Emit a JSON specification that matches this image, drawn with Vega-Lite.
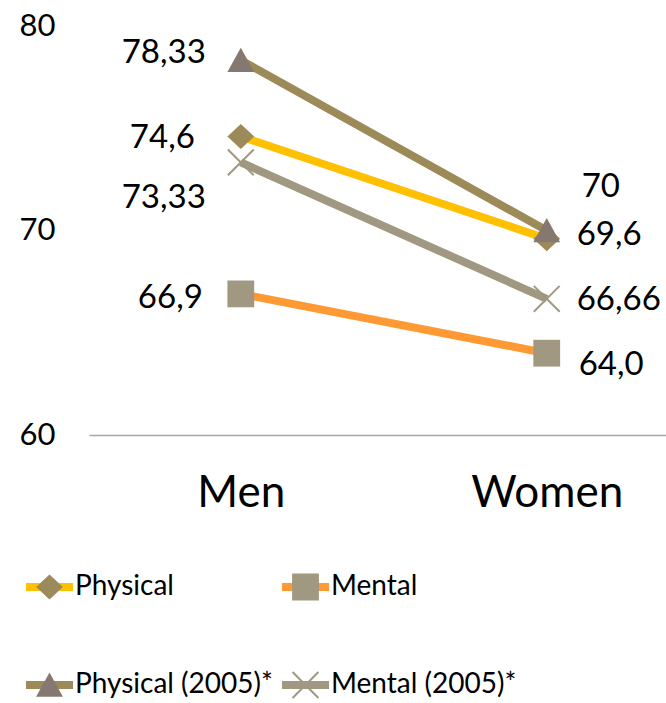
{
  "$schema": "https://vega.github.io/schema/vega-lite/v6.json",
  "autosize": "none",
  "width": 577,
  "height": 409,
  "padding": {"left": 89, "top": 26, "right": 0, "bottom": 268},
  "background": "white",
  "config": {"view": {"stroke": null}, "font": "Lato"},
  "data": {
    "values": [
      {"series": "Physical", "sex": "Men", "value": 74.6, "label": "74,6"},
      {"series": "Physical", "sex": "Women", "value": 69.6, "label": "69,6"},
      {"series": "Mental", "sex": "Men", "value": 66.9, "label": "66,9"},
      {"series": "Mental", "sex": "Women", "value": 64.0, "label": "64,0"},
      {"series": "Physical (2005)*", "sex": "Men", "value": 78.33, "label": "78,33"},
      {"series": "Physical (2005)*", "sex": "Women", "value": 70, "label": "70"},
      {"series": "Mental (2005)*", "sex": "Men", "value": 73.33, "label": "73,33"},
      {"series": "Mental (2005)*", "sex": "Women", "value": 66.66, "label": "66,66"}
    ]
  },
  "encoding": {
    "x": {
      "field": "sex",
      "type": "nominal",
      "sort": ["Men", "Women"],
      "scale": {"type": "point", "padding": 0.443, "align": 0.56},
      "axis": {
        "title": null,
        "labelAngle": 0,
        "labelFontSize": 44,
        "labelColor": "black",
        "labelFont": "Lato",
        "ticks": false,
        "labelPadding": 36,
        "domainColor": "#a6a6a6",
        "domainWidth": 1.5,
        "grid": false
      }
    },
    "y": {
      "field": "value",
      "type": "quantitative",
      "scale": {"domain": [60, 80], "nice": false, "zero": false},
      "axis": {
        "title": null,
        "values": [60, 70, 80],
        "labelFontSize": 31,
        "labelColor": "black",
        "labelFont": "Lato",
        "ticks": false,
        "domain": false,
        "grid": false,
        "labelPadding": 34
      }
    }
  },
  "layer": [
    {
      "mark": {"type": "line", "strokeWidth": 8, "strokeCap": "butt"},
      "encoding": {
        "stroke": {
          "field": "series",
          "type": "nominal",
          "scale": {
            "domain": ["Physical", "Mental", "Physical (2005)*", "Mental (2005)*"],
            "range": ["#FFC000", "#FF9933", "#9C8A58", "#A09880"]
          },
          "legend": {
            "orient": "none",
            "direction": "horizontal",
            "legendX": -67,
            "legendY": 541,
            "columns": 2,
            "title": null,
            "symbolType": "stroke",
            "symbolSize": 2209,
            "symbolStrokeWidth": 8,
            "clipHeight": 40,
            "labelFontSize": 28,
            "labelFont": "Lato",
            "labelColor": "black",
            "labelOffset": -2,
            "labelLimit": 400,
            "columnPadding": 5,
            "rowPadding": 58
          }
        }
      }
    },
    {
      "mark": {"type": "point", "filled": true, "opacity": 1, "size": 2209},
      "encoding": {
        "fill": {
          "field": "series",
          "type": "nominal",
          "scale": {
            "domain": ["Physical", "Mental", "Physical (2005)*", "Mental (2005)*"],
            "range": ["#9C8A5A", "#A09880", "#857870", "#A09880"]
          },
          "legend": {
            "orient": "none",
            "direction": "horizontal",
            "legendX": -67,
            "legendY": 541,
            "columns": 2,
            "title": null,
            "symbolSize": 2209,
            "symbolStrokeWidth": 8,
            "symbolStrokeColor": "transparent",
            "clipHeight": 40,
            "labelFontSize": 28,
            "labelFont": "Lato",
            "labelOpacity": 0,
            "labelOffset": -2,
            "labelLimit": 400,
            "columnPadding": 5,
            "rowPadding": 58
          }
        },
        "shape": {
          "field": "series",
          "type": "nominal",
          "scale": {
            "domain": ["Physical", "Mental", "Physical (2005)*", "Mental (2005)*"],
            "range": [
              "M-0.57,0L0,-0.53L0.57,0L0,0.53Z",
              "M-0.57,-0.57L0.57,-0.57L0.57,0.57L-0.57,0.57Z",
              "M0,-0.53L0.57,0.5L-0.57,0.5Z",
              "M-0.52,-0.58L0.58,0.52L0.52,0.58L-0.58,-0.52Z M0.52,-0.58L0.58,-0.52L-0.52,0.58L-0.58,0.52Z"
            ]
          },
          "legend": {
            "orient": "none",
            "direction": "horizontal",
            "legendX": -67,
            "legendY": 541,
            "columns": 2,
            "title": null,
            "symbolSize": 2209,
            "symbolStrokeWidth": 8,
            "symbolStrokeColor": "transparent",
            "clipHeight": 40,
            "labelFontSize": 28,
            "labelFont": "Lato",
            "labelOpacity": 0,
            "labelOffset": -2,
            "labelLimit": 400,
            "columnPadding": 5,
            "rowPadding": 58
          }
        }
      }
    },
    {
      "transform": [{"filter": "datum.series === 'Physical' && datum.sex === 'Men'"}],
      "mark": {"type": "text", "align": "right", "baseline": "middle", "dx": -46, "dy": 2, "fontSize": 33, "font": "Lato", "color": "black"},
      "encoding": {"text": {"field": "label"}}
    },
    {
      "transform": [{"filter": "datum.series === 'Mental' && datum.sex === 'Men'"}],
      "mark": {"type": "text", "align": "right", "baseline": "middle", "dx": -38, "dy": 4, "fontSize": 33, "font": "Lato", "color": "black"},
      "encoding": {"text": {"field": "label"}}
    },
    {
      "transform": [{"filter": "datum.series === 'Physical (2005)*' && datum.sex === 'Men'"}],
      "mark": {"type": "text", "align": "right", "baseline": "middle", "dx": -35, "dy": -7, "fontSize": 33, "font": "Lato", "color": "black"},
      "encoding": {"text": {"field": "label"}}
    },
    {
      "transform": [{"filter": "datum.series === 'Mental (2005)*' && datum.sex === 'Men'"}],
      "mark": {"type": "text", "align": "right", "baseline": "middle", "dx": -35, "dy": 36, "fontSize": 33, "font": "Lato", "color": "black"},
      "encoding": {"text": {"field": "label"}}
    },
    {
      "transform": [{"filter": "datum.series === 'Physical (2005)*' && datum.sex === 'Women'"}],
      "mark": {"type": "text", "align": "left", "baseline": "middle", "dx": 35, "dy": -44, "fontSize": 33, "font": "Lato", "color": "black"},
      "encoding": {"text": {"field": "label"}}
    },
    {
      "transform": [{"filter": "datum.series === 'Physical' && datum.sex === 'Women'"}],
      "mark": {"type": "text", "align": "left", "baseline": "middle", "dx": 30, "dy": -4, "fontSize": 33, "font": "Lato", "color": "black"},
      "encoding": {"text": {"field": "label"}}
    },
    {
      "transform": [{"filter": "datum.series === 'Mental (2005)*' && datum.sex === 'Women'"}],
      "mark": {"type": "text", "align": "left", "baseline": "middle", "dx": 30, "dy": 1, "fontSize": 33, "font": "Lato", "color": "black"},
      "encoding": {"text": {"field": "label"}}
    },
    {
      "transform": [{"filter": "datum.series === 'Mental' && datum.sex === 'Women'"}],
      "mark": {"type": "text", "align": "left", "baseline": "middle", "dx": 32, "dy": 12, "fontSize": 33, "font": "Lato", "color": "black"},
      "encoding": {"text": {"field": "label"}}
    }
  ],
  "resolve": {"scale": {"fill": "independent", "shape": "independent", "stroke": "independent"}}
}
